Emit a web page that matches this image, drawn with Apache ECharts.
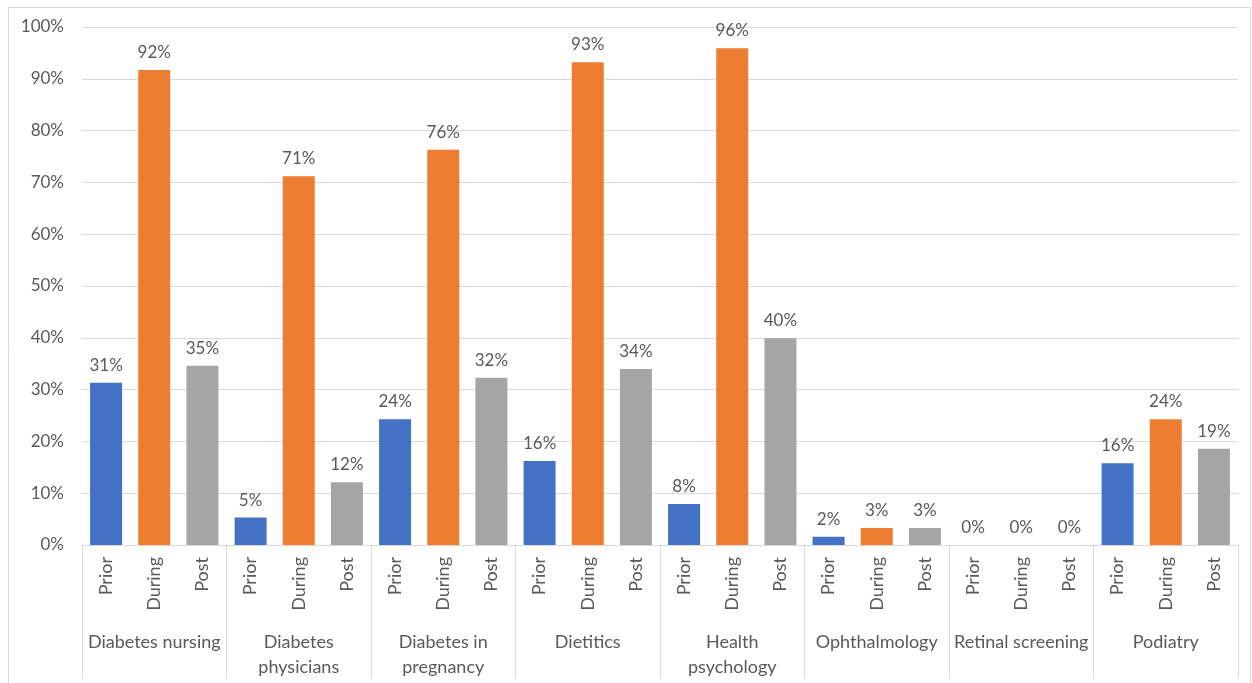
<!DOCTYPE html>
<html lang="en">
<head>
    <meta charset="UTF-8">
    <title>Services</title>
    <script src="https://cdn.jsdelivr.net/npm/echarts@6/dist/echarts.min.js"></script>
    <style>
        html, body { margin: 0; padding: 0; background: #fff; }
        #chart { width: 1252px; height: 683px; }
    </style>
</head>
<body>
<div id="chart"></div>
<script>
    // groups on the outer axis
    var groups = ['Diabetes nursing', 'Diabetes\nphysicians', 'Diabetes in\npregnancy', 'Dietitics',
        'Health\npsychology', 'Ophthalmology', 'Retinal screening', 'Podiatry'];
    var phases = ['Prior', 'During', 'Post'];
    // percent values
    var prior  = [31.3, 5.3, 24.3, 16.2, 7.9, 1.6, 0, 15.8];
    var during = [91.7, 71.2, 76.3, 93.2, 95.9, 3.3, 0, 24.3];
    var post   = [34.6, 12.1, 32.3, 34.0, 39.9, 3.3, 0, 18.6];
    var yTicks = [0, 10, 20, 30, 40, 50, 60, 70, 80, 90, 100];

    var colors = ['#4472C4', '#ED7D31', '#A5A5A5'];
    var txt = '#595959';
    var font = 'Lato';

    var cats = [];
    var data = [];
    for (var i = 0; i < groups.length; i++) {
        var vals = [prior[i], during[i], post[i]];
        for (var j = 0; j < 3; j++) {
            cats.push(phases[j]);
            data.push({ value: vals[j], itemStyle: { color: colors[j] } });
        }
    }

    var chart = echarts.init(document.getElementById('chart'));
    var option = {
        animation: false,
        backgroundColor: '#fff',
        textStyle: { fontFamily: font },
        graphic: [{
            type: 'rect',
            shape: { x: 8.5, y: 7.5, width: 1242, height: 680 },
            style: { fill: 'none', stroke: '#d9d9d9', lineWidth: 1 },
            silent: true
        }],
        grid: { left: 82, right: 14, top: 27, bottom: 138 },
        xAxis: [
            {
                type: 'category',
                data: cats,
                axisLine: { lineStyle: { color: '#d9d9d9' } },
                axisTick: { show: false },
                axisLabel: {
                    interval: 0, rotate: 90, margin: 12,
                    color: txt, fontSize: 18, fontFamily: font
                }
            },
            {
                type: 'category',
                data: groups,
                position: 'bottom',
                axisLine: { show: false },
                axisTick: { show: true, length: 133, lineStyle: { color: '#d9d9d9' } },
                axisLabel: {
                    interval: 0, margin: 85, lineHeight: 25,
                    color: txt, fontSize: 18, fontFamily: font
                }
            }
        ],
        yAxis: {
            type: 'value',
            min: yTicks[0],
            max: yTicks[yTicks.length - 1],
            interval: 10,
            axisLine: { show: false },
            axisTick: { show: false },
            splitLine: { lineStyle: { color: '#d9d9d9' } },
            axisLabel: {
                formatter: '{value}%', margin: 18,
                color: txt, fontSize: 17, fontFamily: font
            }
        },
        series: [{
            type: 'bar',
            xAxisIndex: 0,
            barWidth: 32,
            data: data,
            label: {
                show: true,
                position: 'top',
                distance: 9,
                color: txt,
                fontSize: 17,
                fontFamily: font,
                formatter: function (p) { return Math.round(p.value) + '%'; }
            }
        }]
    };
    chart.setOption(option);
</script>
</body>
</html>
